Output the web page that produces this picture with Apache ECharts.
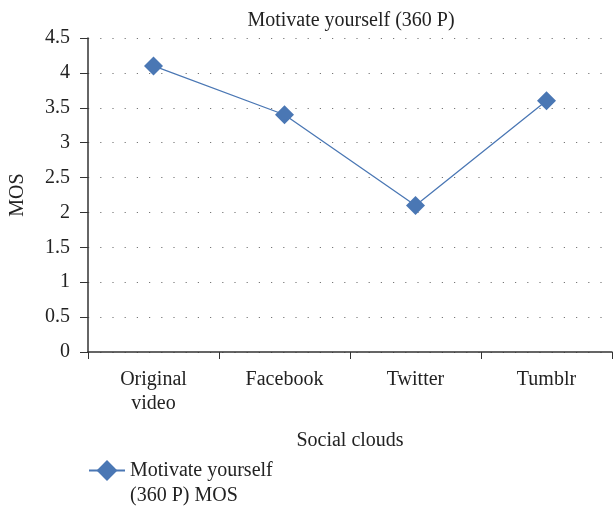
<!DOCTYPE html>
<html>
<head>
<meta charset="utf-8">
<script src="https://cdn.jsdelivr.net/npm/echarts@6/dist/echarts.min.js"></script>
<style>
html,body{margin:0;padding:0;background:#fff;}
#main{width:615px;height:509px;}
</style>
</head>
<body>
<div id="main"></div>
<script>
// chart data
var categories = ['Original\nvideo', 'Facebook', 'Twitter', 'Tumblr'];
var mosValues = [4.1, 3.4, 2.1, 3.6];
var seriesName = 'Motivate yourself\n(360 P) MOS';
var yTicks = { min: 0, max: 4.5, interval: 0.5 };

var fontFam = '"Liberation Serif", "DejaVu Serif", serif';
var myChart = echarts.init(document.getElementById('main'));

var option = {
    backgroundColor: '#fff',
    animation: false,
    title: {
        text: 'Motivate yourself (360 P)',
        left: 346,
        textAlign: 'center',
        top: 6,
        textStyle: { fontFamily: fontFam, fontSize: 20, fontWeight: 'normal', color: '#222' }
    },
    legend: {
        left: 83,
        top: 428,
        itemWidth: 36,
        itemHeight: 26,
        data: [seriesName],
        // blank first line so the icon sits beside the first text line
        formatter: function (name) { return ' \n' + name; },
        textStyle: { fontFamily: fontFam, fontSize: 20, color: '#222', lineHeight: 25 }
    },
    grid: { left: 88, right: 3, top: 38, bottom: 157, containLabel: false },
    xAxis: {
        type: 'category',
        data: categories,
        name: 'Social clouds',
        nameLocation: 'middle',
        nameGap: 79,
        nameTextStyle: { fontFamily: fontFam, fontSize: 20, color: '#222' },
        axisLine: { lineStyle: { color: '#333', width: 1.5 } },
        axisTick: { show: true, length: 7, lineStyle: { color: '#333' } },
        axisLabel: { fontFamily: fontFam, fontSize: 20, color: '#222', margin: 16, lineHeight: 24 }
    },
    yAxis: {
        type: 'value',
        min: yTicks.min,
        max: yTicks.max,
        interval: yTicks.interval,
        name: 'MOS',
        nameLocation: 'middle',
        nameGap: 60,
        nameTextStyle: { fontFamily: fontFam, fontSize: 20, color: '#222' },
        axisLine: { show: true, lineStyle: { color: '#333', width: 1.5 } },
        axisTick: { show: true, length: 8, lineStyle: { color: '#333' } },
        axisLabel: { fontFamily: fontFam, fontSize: 20, color: '#222', margin: 18 },
        splitLine: { show: true, lineStyle: { color: '#777', width: 1.2, type: [1.2, 11] } }
    },
    series: [{
        name: seriesName,
        type: 'line',
        data: mosValues,
        symbol: 'diamond',
        symbolSize: 19,
        itemStyle: { color: '#4a77b4' },
        lineStyle: { color: '#4a77b4', width: 1.3 }
    }]
};
myChart.setOption(option);
</script>
</body>
</html>
